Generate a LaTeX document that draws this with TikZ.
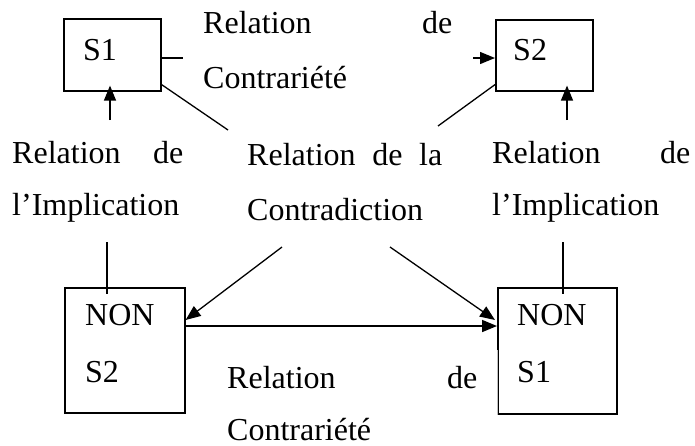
\documentclass[tikz,border=0pt]{standalone}
\usepackage{fontspec}
\setmainfont{Liberation Serif}
\usetikzlibrary{arrows.meta,calc}
\begin{document}
\begin{tikzpicture}[x=1pt,y=-1pt,
  box/.style={draw,line width=1.6pt,inner sep=0pt,anchor=north west},
  lbl/.style={inner sep=0pt,anchor=base west,font=\fontsize{32}{38}\selectfont},
  link/.style={line width=1.3pt},
  arr/.style={line width=1.3pt,-{Triangle[length=15pt,width=12pt]}}]
\useasboundingbox (0,0) rectangle (695,445);

% boxes
\node[box,minimum width=97pt,minimum height=72pt] (s1) at (63,18) {};
\node[box,minimum width=97pt,minimum height=71pt] (s2) at (495,19) {};
\node[box,minimum width=120pt,minimum height=125pt] (ns2) at (64,287) {};
\node[box,minimum width=119pt,minimum height=126pt] (ns1) at (497,287) {};
% lower part of the left edge of the NON S1 box is only faint
\draw[white,line width=2.4pt] ($(ns1.south west)+(0,-1)$) -- ($(ns1.north west)+(0,63)$);
\draw[black!25,line width=0.6pt] (ns1.south west) -- ($(ns1.north west)+(0,63)$);

% box texts
\node[lbl] (s1t) at (83,60) {S1};
\node[lbl] (s2t) at (513,60) {S2};
\node[lbl] (ns2a) at (85,325) {NON};
\node[lbl] (ns2b) at (85,382) {S2};
\node[lbl] (ns1a) at (517,325) {NON};
\node[lbl] (ns1b) at (517,382) {S1};

% relation labels
\node[lbl] (ctop1) at (203,33) {\makebox[249pt][s]{Relation de}};
\node[lbl] (ctop2) at (203,88) {Contrariété};
\node[lbl] (il1) at (12,163) {\makebox[171pt][s]{Relation de}};
\node[lbl] (il2) at (12,215) {l’Implication};
\node[lbl] (cd1) at (247,165) {\makebox[195pt][s]{Relation de la}};
\node[lbl] (cd2) at (247,220) {Contradiction};
\node[lbl] (ir1) at (492,163) {\makebox[198pt][s]{Relation de}};
\node[lbl] (ir2) at (492,215) {l’Implication};
\node[lbl] (cb1) at (227,388) {\makebox[250pt][s]{Relation de}};
\node[lbl] (cb2) at (227,440) {Contrariété};

% free ends of the connectors
\coordinate (e1) at (183,58);
\coordinate (e2) at (228,130);
\coordinate (e3) at (110,120);
\coordinate (e4) at (473,58);
\coordinate (e5) at (438,126);
\coordinate (e6) at (567,120);
\coordinate (e7) at (107,242);
\coordinate (e8) at (563,242);
\coordinate (e9) at (282,247);
\coordinate (e10) at (390,247);

% top half
\draw[link] (s1.east |- e1) -- (e1);
\draw[link] ($(s1.south east)+(0,-7)$) -- (e2);
\draw[arr] (e3) -- ($(s1.south -| e3)+(0,-6)$);
\draw[arr] (e4) -- (s2.west |- e4);
\draw[link] ($(s2.south west)+(0,-7)$) -- (e5);
\draw[arr] (e6) -- ($(s2.south -| e6)+(0,-6)$);

% bottom half
\draw[link] (e7) -- ($(ns2.north -| e7)+(0,7)$);
\draw[link] (e8) -- ($(ns1.north -| e8)+(0,7)$);
\draw[arr] (e9) -- ($(ns2.north east)+(0,33)$);
\draw[arr] (e10) -- ($(ns1.north west)+(-2,33)$);
\draw[line width=1.6pt,-{Triangle[length=15pt,width=12pt]}]
  ($(ns2.north east)+(0,39)$) -- ($(ns1.north west)+(0,39)$);
\end{tikzpicture}
\end{document}
